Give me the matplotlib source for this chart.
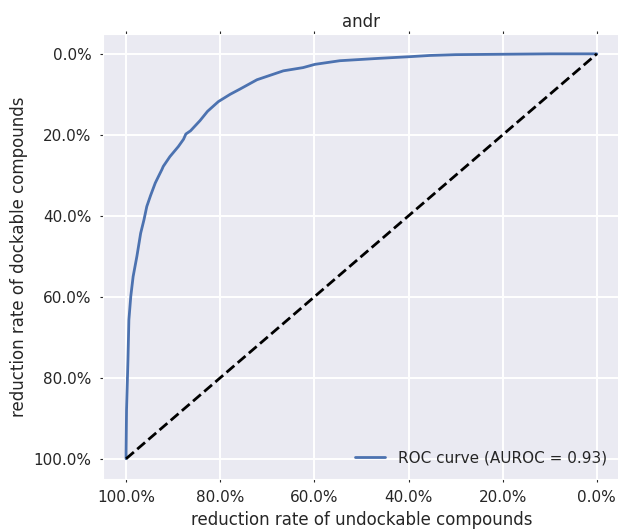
import matplotlib
matplotlib.use("Agg")
import matplotlib.pyplot as plt
import seaborn as sns
from matplotlib.ticker import PercentFormatter

# reduction rates (fractions)
undock_red = [1.0, 1.0, 0.999, 0.996, 0.994, 0.990, 0.985, 0.977, 0.969, 0.962,
              0.956, 0.948, 0.938, 0.930, 0.924, 0.921, 0.907, 0.889, 0.878,
              0.873, 0.863, 0.843, 0.827, 0.804, 0.779, 0.758, 0.722, 0.666, 0.624,
              0.599, 0.546, 0.461, 0.397, 0.355, 0.30, 0.20, 0.10, 0.0]
dock_red = [1.0, 0.985, 0.879, 0.756, 0.657, 0.599, 0.550, 0.500, 0.443, 0.410,
            0.377, 0.350, 0.319, 0.300, 0.286, 0.278, 0.254, 0.229, 0.211,
            0.198, 0.190, 0.165, 0.142, 0.118, 0.100, 0.087, 0.064, 0.042, 0.034,
            0.026, 0.017, 0.011, 0.007, 0.004, 0.002, 0.001, 0.0, 0.0]
auroc = 0.93
diag = [1.0, 0.0]

sns.set_style("darkgrid", {'grid.linewidth': 1.4})
plt.rcParams['font.family'] = ['DejaVu Sans']
plt.rcParams['text.color'] = '#262626'
plt.rcParams['axes.labelcolor'] = '#262626'
plt.rcParams['xtick.color'] = '#262626'
plt.rcParams['ytick.color'] = '#262626'

fig = plt.figure(figsize=(6.18, 5.29), dpi=100)
ax = fig.add_axes([0.1659, 0.0945, 0.838, 0.842])

ax.plot(undock_red, dock_red, color='#4C72B0', lw=2,
        label=f'ROC curve (AUROC = {auroc:.2f})')
ax.plot(diag, diag, 'k--', lw=2)

ax.set_xlim(1.05, -0.05)
ax.set_ylim(1.05, -0.05)
ax.set_xticks([1.0, 0.8, 0.6, 0.4, 0.2, 0.0])
ax.set_yticks([0.0, 0.2, 0.4, 0.6, 0.8, 1.0])
ax.xaxis.set_major_formatter(PercentFormatter(xmax=1, decimals=1))
ax.yaxis.set_major_formatter(PercentFormatter(xmax=1, decimals=1))
ax.tick_params(axis='both', labelsize=11, direction='out', length=2, width=0.8,
               color='#262626', top=True, bottom=True, left=True, right=True, pad=6)
ax.grid(True, color='white', lw=1.4)

ax.set_xlabel('reduction rate of undockable compounds', fontsize=12, labelpad=4.5)
ax.set_ylabel('reduction rate of dockable compounds', fontsize=12)
ax.set_title('andr', fontsize=12, pad=5)
ax.legend(loc='lower right', fontsize=11, frameon=False)

fig.savefig('out.png', dpi=100)
